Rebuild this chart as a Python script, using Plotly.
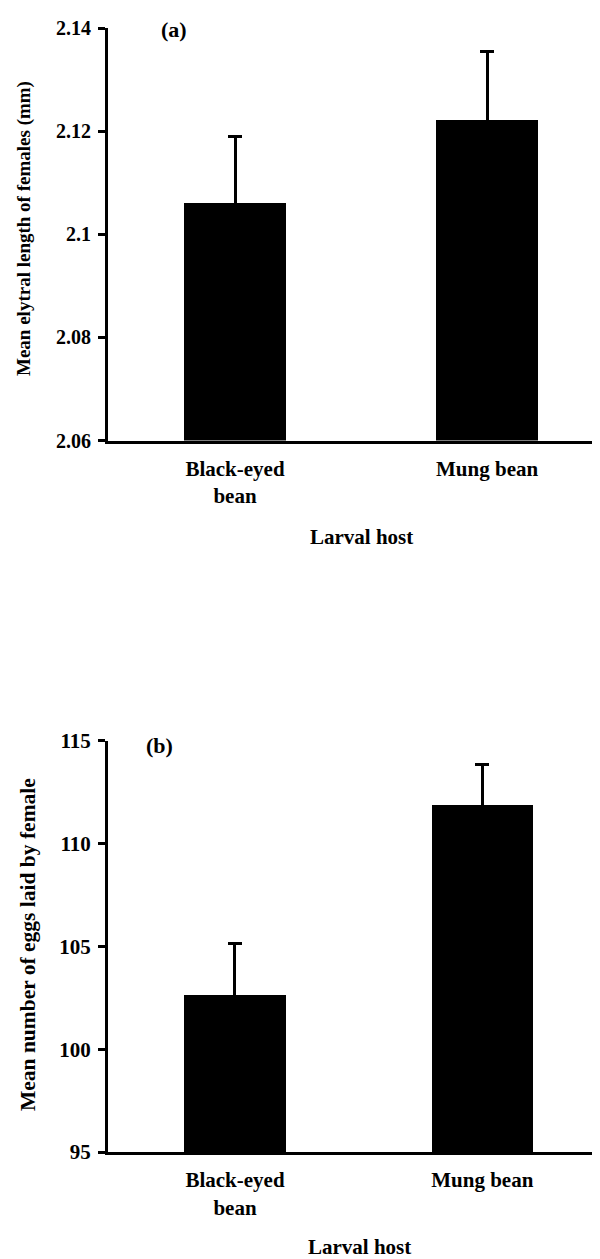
import plotly.graph_objects as go

# ---- data ----
categories = ["Black-eyed<br>bean", "Mung bean"]
elytra_mean = [2.106, 2.1222]
elytra_se = [0.013, 0.0132]
eggs_mean = [102.66, 111.9]
eggs_se = [2.47, 1.95]
elytra_ticks = [2.06, 2.08, 2.10, 2.12, 2.14]
elytra_ticktext = ["2.06", "2.08", "2.1", "2.12", "2.14"]
eggs_ticks = [95, 100, 105, 110, 115]
eggs_ticktext = ["95", "100", "105", "110", "115"]

# the page body adds an 8px offset, so the figure is drawn 8px smaller
OFF = 8
W, H = 600 - OFF, 1259 - OFF
FONT = "Liberation Serif"


def px_x(p):
    return (p - OFF) / W


def px_y(p):
    return 1 - (p - OFF) / H


fig = go.Figure()

fig.add_trace(go.Bar(
    x=categories, y=elytra_mean, width=0.405,
    marker=dict(color="black", line=dict(width=0)),
    error_y=dict(type="data", symmetric=True, array=elytra_se,
                 color="black", thickness=3, width=7),
    xaxis="x", yaxis="y",
))
fig.add_trace(go.Bar(
    x=categories, y=eggs_mean, width=0.41,
    marker=dict(color="black", line=dict(width=0)),
    error_y=dict(type="data", symmetric=True, array=eggs_se,
                 color="black", thickness=3, width=7),
    xaxis="x2", yaxis="y2",
))

xcommon = dict(type="category", showline=True, linecolor="black", linewidth=3,
               ticks="", showgrid=False, zeroline=False, automargin=False,
               ticklabelstandoff=7,
               tickfont=dict(family=FONT, size=21, color="black", weight="bold"))
ycommon = dict(showline=True, linecolor="black", linewidth=3, ticks="outside",
               ticklen=7, tickwidth=3, tickcolor="black", showgrid=False, zeroline=False,
               automargin=False, ticklabelstandoff=3)

fig.update_layout(
    template="none",
    width=W, height=H,
    margin=dict(l=0, r=0, t=0, b=0, autoexpand=False),
    paper_bgcolor="white", plot_bgcolor="white",
    showlegend=False, bargap=0,
    xaxis=dict(domain=[px_x(108), 1.0], range=[-0.504, 1.448], anchor="y", **xcommon),
    yaxis=dict(domain=[px_y(440.5), px_y(28)], range=[2.06, 2.14], anchor="x",
               tickvals=elytra_ticks, ticktext=elytra_ticktext,
               tickfont=dict(family=FONT, size=20, color="black", weight="bold"), **ycommon),
    xaxis2=dict(domain=[px_x(108), 1.0], range=[-0.5135, 1.476], anchor="y2", **xcommon),
    yaxis2=dict(domain=[px_y(1152), px_y(740.7)], range=[95, 115], anchor="x2",
                tickvals=eggs_ticks, ticktext=eggs_ticktext,
                tickfont=dict(family=FONT, size=21, color="black", weight="bold"), **ycommon),
)

def ann(text, x, y, size, angle=0):
    fig.add_annotation(text=text, x=px_x(x), y=px_y(y), xref="paper", yref="paper",
                       showarrow=False, textangle=angle, xanchor="center", yanchor="middle",
                       font=dict(family=FONT, size=size, color="black", weight="bold"))

ann("(a)", 174, 30, 22)
ann("(b)", 159, 745, 22)
ann("Larval host", 361, 537, 21)
ann("Larval host", 359, 1247, 21)
ann("Mean elytral length of females (mm)", 24, 229, 19, -90)
ann("Mean number of eggs laid by female", 28, 945, 21.5, -90)

fig.write_html("out.html")
